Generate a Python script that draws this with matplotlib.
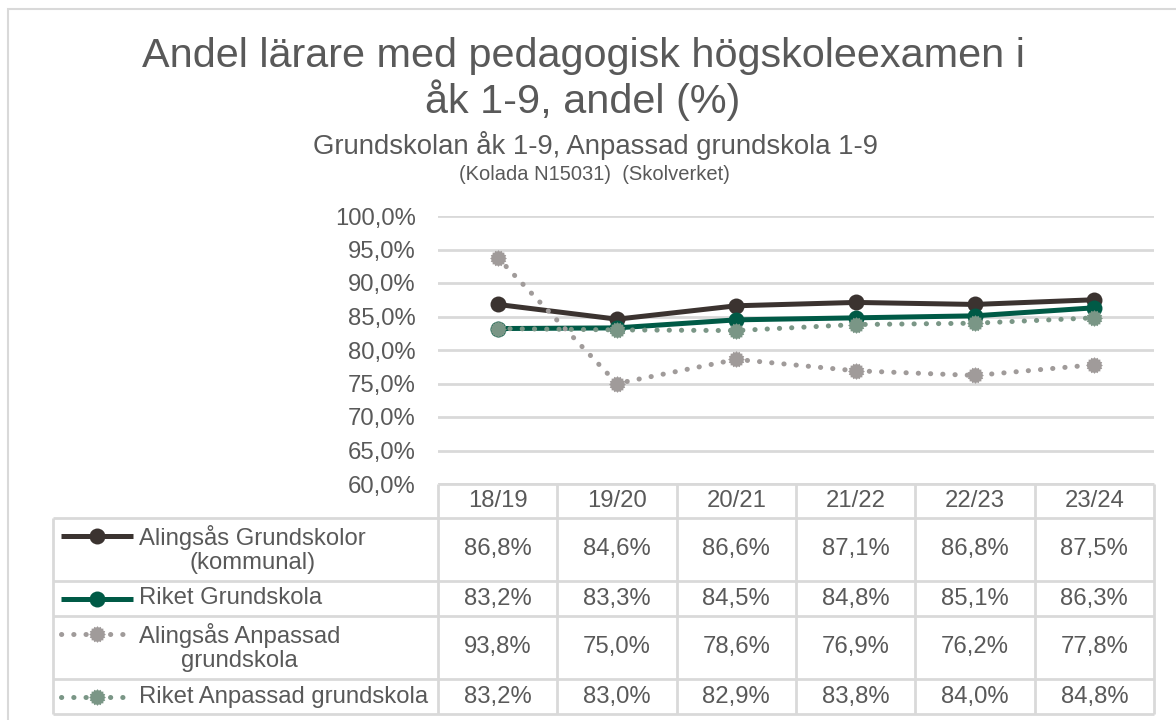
import numpy as np
import matplotlib
matplotlib.use("Agg")
import matplotlib.pyplot as plt
from matplotlib.lines import Line2D
from matplotlib.patches import Rectangle
from matplotlib.path import Path

plt.rcParams['font.family'] = ['Liberation Sans', 'DejaVu Sans']

# ---- data ----
categories = ["18/19", "19/20", "20/21", "21/22", "22/23", "23/24"]
series_names = ["Alingsås Grundskolor\n(kommunal)", "Riket Grundskola",
                "Alingsås Anpassad\ngrundskola", "Riket Anpassad grundskola"]
alingsas_grund = [86.8, 84.6, 86.6, 87.1, 86.8, 87.5]
riket_grund = [83.2, 83.3, 84.5, 84.8, 85.1, 86.3]
alingsas_anp = [93.8, 75.0, 78.6, 76.9, 76.2, 77.8]
riket_anp = [83.2, 83.0, 82.9, 83.8, 84.0, 84.8]
yticks = [60, 65, 70, 75, 80, 85, 90, 95, 100]

# gear-like marker (circle with small bumps)
ang = np.linspace(0, 2 * np.pi, 33)[:-1]
rad = np.where(np.arange(32) % 2 == 0, 1.0, 0.84)
verts = np.column_stack([rad * np.cos(ang), rad * np.sin(ang)])
verts = np.vstack([verts, verts[:1]])
gear = Path(verts, closed=True)

TXT = "#595959"
GRID = "#D9D9D9"
DOT = (0, (0.05, 2.4))
styles = [
    dict(color="#3B3330", lw=3.6, ls="-", marker="o", ms=11.5),
    dict(color="#005A46", lw=3.6, ls="-", marker="o", ms=11.5),
    dict(color="#A09B9A", lw=3.6, ls=DOT, marker=gear, ms=12),
    dict(color="#7A9686", lw=3.6, ls=DOT, marker=gear, ms=12),
]
values = [alingsas_grund, riket_grund, alingsas_anp, riket_anp]

W, H = 1176, 720
fig = plt.figure(figsize=(W / 100, H / 100), dpi=100)

# figure border
fig.add_artist(Rectangle((8 / W, -0.1), 1.2, 1 - 8.5 / H + 0.1, transform=fig.transFigure,
                         fill=False, edgecolor=GRID, lw=1.5))

# geometry (pixels)
ax_l, ax_r, ax_t, ax_b = 438, 1154, 216, 484
tab_l, tab_b = 53, 714
rows = [484, 518, 581, 616, 679, 714]
FS = 17.2

ax = fig.add_axes([ax_l / W, 1 - ax_b / H, (ax_r - ax_l) / W, (ax_b - ax_t) / H])
x = list(range(len(categories)))
for v, st in zip(values, styles):
    ax.plot(x, v, color=st["color"], lw=st["lw"], ls=st["ls"], marker=st["marker"],
            ms=st["ms"], mfc=st["color"], mec=st["color"], mew=0, solid_capstyle="round",
            dash_capstyle="round", clip_on=False)
ax.set_xlim(-0.5, len(categories) - 0.5)
ax.set_ylim(60, 100)
ax.set_yticks(yticks)
ax.set_yticklabels([f"{t:.1f}".replace(".", ",") + "%" for t in yticks], fontsize=FS, color=TXT)
ax.tick_params(axis="y", length=0, pad=16)
ax.set_xticks([])
for s in ax.spines.values():
    s.set_visible(False)
ax.grid(axis="y", color=GRID, lw=2)
ax.set_axisbelow(True)

# table axes
unit = (ax_r - ax_l) / len(categories)
tx = fig.add_axes([tab_l / W, 1 - tab_b / H, (ax_r - tab_l) / W, (tab_b - rows[0]) / H])
xl = -0.5 - (ax_l - tab_l) / unit
xr = len(categories) - 0.5
tx.set_xlim(xl, xr)
tx.set_ylim(tab_b, rows[0])
tx.axis("off")
lk = dict(color=GRID, lw=2, solid_capstyle="butt", clip_on=False)
tx.plot([-0.5, xr], [rows[0], rows[0]], **lk)
for r in rows[1:]:
    tx.plot([xl, xr], [r, r], **lk)
tx.plot([xl, xl], [rows[1], rows[-1]], **lk)
for i in range(len(categories) + 1):
    tx.plot([i - 0.5, i - 0.5], [rows[0], rows[-1]], **lk)

hy = (rows[0] + rows[1]) / 2
for i, c in enumerate(categories):
    tx.text(i, hy, c, ha="center", va="center", fontsize=FS, color=TXT)


def px2x(p):
    return xl + (p - tab_l) / unit


for j, (name, v, st) in enumerate(zip(series_names, values, styles)):
    cy = (rows[j + 1] + rows[j + 2]) / 2
    for i, val in enumerate(v):
        tx.text(i, cy, f"{val:.1f}".replace(".", ",") + "%", ha="center", va="center",
                fontsize=FS, color=TXT)
    ly = cy - 14 if "\n" in name else cy
    tx.add_line(Line2D([px2x(61), px2x(133)], [ly, ly], color=st["color"], lw=st["lw"],
                       ls=st["ls"], dash_capstyle="round", solid_capstyle="butt"))
    tx.add_line(Line2D([px2x(97)], [ly], marker=st["marker"], ms=st["ms"], mfc=st["color"],
                       mec=st["color"], mew=0, ls="none"))
    tx.text(px2x(139), cy, name, ha="left", va="center", multialignment="center",
            fontsize=FS, color=TXT, linespacing=1.12)

# titles
fig.text(583 / W, 1 - 56 / H, "Andel lärare med pedagogisk högskoleexamen i", ha="center", va="center",
         fontsize=29.8, color=TXT)
fig.text(583 / W, 1 - 100 / H, "åk 1-9, andel (%)", ha="center", va="center", fontsize=29.8, color=TXT)
fig.text(595 / W, 1 - 145 / H, "Grundskolan åk 1-9, Anpassad grundskola 1-9", ha="center", va="center",
         fontsize=19.8, color=TXT)
fig.text(594 / W, 1 - 175 / H, "(Kolada N15031)  (Skolverket)", ha="center", va="center",
         fontsize=14.5, color=TXT)

fig.savefig("out.png", dpi=100)
